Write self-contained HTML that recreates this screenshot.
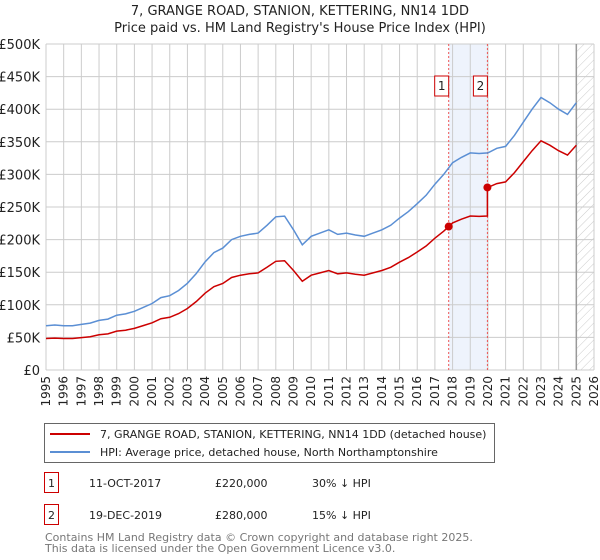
<!DOCTYPE html>
<html><head><meta charset="utf-8"><style>
body{margin:0;width:600px;height:560px;background:#fff;font-family:"DejaVu Sans","Liberation Sans",sans-serif;overflow:hidden}
svg{position:absolute;left:0;top:0}
</style></head><body>
<svg id="c" width="600" height="560"></svg>
<script>
const hpiYears=[1995,1995.5,1996,1996.5,1997,1997.5,1998,1998.5,1999,1999.5,2000,2000.5,2001,2001.5,2002,2002.5,2003,2003.5,2004,2004.5,2005,2005.5,2006,2006.5,2007,2007.5,2008,2008.5,2009,2009.5,2010,2010.5,2011,2011.5,2012,2012.5,2013,2013.5,2014,2014.5,2015,2015.5,2016,2016.5,2017,2017.5,2018,2018.5,2019,2019.5,2020,2020.5,2021,2021.5,2022,2022.5,2023,2023.5,2024,2024.5,2025];
const hpiValues=[68,69,68,68,70,72,76,78,84,86,90,96,102,111,114,122,133,148,166,180,187,200,205,208,210,222,235,236,215,192,205,210,215,208,210,207,205,210,215,222,233,243,255,268,285,300,318,326,333,332,333,340,343,360,380,400,418,410,400,392,410];
const saleDates=[2017.78,2019.97];
const salePrices=[220,280];
const saleLabels=["1","2"];
const yTicks=[0,50,100,150,200,250,300,350,400,450,500];
const yTickLabels=["£0","£50K","£100K","£150K","£200K","£250K","£300K","£350K","£400K","£450K","£500K"];
const xTicks=[];for(let y=1995;y<=2026;y++)xTicks.push(y);

const svg=document.getElementById('c');const NS='http://www.w3.org/2000/svg';
const X0=46,X1=594,Y0=370,Y1=44;
const xs=v=>X0+(v-1995)/(2026-1995)*(X1-X0);
const ys=v=>Y0-v/500*(Y0-Y1);
function mk(t,a,p){const e=document.createElementNS(NS,t);for(const k in a)e.setAttribute(k,a[k]);(p||svg).appendChild(e);return e;}
function hpiAt(t){for(let i=0;i<hpiYears.length-1;i++){if(t<=hpiYears[i+1]){const f=(t-hpiYears[i])/(hpiYears[i+1]-hpiYears[i]);return hpiValues[i]+f*(hpiValues[i+1]-hpiValues[i]);}}return hpiValues[hpiValues.length-1];}
const defs=mk('defs',{});
const pat=mk('pattern',{id:'hatch',width:6,height:6,patternUnits:'userSpaceOnUse',patternTransform:'rotate(45)'},defs);
mk('line',{x1:0,y1:0,x2:0,y2:6,stroke:'#ccc','stroke-width':1},pat);
let r=mk('rect',{x:xs(saleDates[0]),y:Y1,width:xs(saleDates[1])-xs(saleDates[0]),height:Y0-Y1,fill:'#eef3fc'});

r=mk('rect',{x:xs(2025.0),y:Y1,width:X1-xs(2025.0),height:Y0-Y1,fill:'url(#hatch)'});

yTicks.forEach((v,i)=>{mk('line',{x1:X0,x2:X1,y1:ys(v),y2:ys(v),stroke:'#ccc','stroke-width':1});
 const t=mk('text',{x:40,y:ys(v)+5,'text-anchor':'end','font-size':13,fill:'#222'});t.textContent=yTickLabels[i];
 });
xTicks.forEach(v=>{mk('line',{x1:xs(v),x2:xs(v),y1:Y1,y2:Y0,stroke:'#ccc','stroke-width':1});
 const t=mk('text',{x:0,y:0,'text-anchor':'end','font-size':12,fill:'#222',transform:`translate(${xs(v)+4},${Y0+6}) rotate(-90)`});t.textContent=v;
 });
mk('line',{x1:xs(2025),x2:xs(2025),y1:Y1,y2:Y0,stroke:'#999','stroke-width':1.5});
saleDates.forEach((d,i)=>{const l=mk('line',{x1:xs(d),x2:xs(d),y1:Y1,y2:Y0,stroke:'#e55','stroke-width':1,'stroke-dasharray':'2,2'});
 
 const g=mk('g',{});
 mk('rect',{x:xs(d)-14,y:76,width:14,height:20,fill:'#fff',stroke:'#c00','stroke-width':1},g);
 const t=mk('text',{x:xs(d)-7,y:90,'text-anchor':'middle','font-size':12,fill:'#222'},g);t.textContent=saleLabels[i];});
let pts=hpiYears.map((y,i)=>xs(y).toFixed(1)+','+ys(hpiValues[i]).toFixed(1)).join(' ');
let p=mk('polyline',{points:pts,fill:'none',stroke:'#5b8fd4','stroke-width':1.5});

const redPts=[];
hpiYears.forEach((y,i)=>{let k=0;if(y>=saleDates[1])k=1;const ratio=salePrices[k]/hpiAt(saleDates[k]);
 redPts.push([y,hpiValues[i]*ratio]);
 if(i<hpiYears.length-1){saleDates.forEach((d,j)=>{if(d>y&&d<hpiYears[i+1]){if(j===1){redPts.push([d,hpiAt(d)*salePrices[0]/hpiAt(saleDates[0])]);}redPts.push([d,salePrices[j]]);}});}});
const r0=salePrices[0]/hpiAt(saleDates[0]);
const fixed=redPts.map(([y,v])=>{if(y<saleDates[1]&&y!==saleDates[0])return [y,hpiAt(y)*r0];return [y,v];});
p=mk('polyline',{points:fixed.map(([y,v])=>xs(y).toFixed(1)+','+ys(v).toFixed(1)).join(' '),fill:'none',stroke:'#c00','stroke-width':1.5});

saleDates.forEach((d,i)=>{const c=mk('circle',{cx:xs(d),cy:ys(salePrices[i]),r:4,fill:'#c00'});
 });
let t=mk('text',{x:300,y:15,'text-anchor':'middle','font-size':13,fill:'#222'});t.textContent='7, GRANGE ROAD, STANION, KETTERING, NN14 1DD';

t=mk('text',{x:300,y:32,'text-anchor':'middle','font-size':13,fill:'#222'});t.textContent="Price paid vs. HM Land Registry's House Price Index (HPI)";

const lg=mk('g',{});
mk('rect',{x:44.5,y:423.5,width:450,height:39,fill:'#fff',stroke:'#666','stroke-width':1},lg);
mk('line',{x1:50,x2:90,y1:434,y2:434,stroke:'#c00','stroke-width':2},lg);
mk('line',{x1:50,x2:90,y1:452,y2:452,stroke:'#5b8fd4','stroke-width':2},lg);
t=mk('text',{x:100,y:438,'font-size':11,fill:'#222'},lg);t.textContent='7, GRANGE ROAD, STANION, KETTERING, NN14 1DD (detached house)';

t=mk('text',{x:100,y:456,'font-size':11,fill:'#222'},lg);t.textContent='HPI: Average price, detached house, North Northamptonshire';

const rows=[["1","11-OCT-2017","£220,000","30% ↓ HPI",486],["2","19-DEC-2019","£280,000","15% ↓ HPI",518]];
rows.forEach(rw=>{const g=mk('g',{});
 mk('rect',{x:44.5,y:rw[4]-13.5,width:14,height:20,fill:'#fff',stroke:'#c00','stroke-width':1},g);
 let a=mk('text',{x:51.5,y:rw[4]+1,'text-anchor':'middle','font-size':11,fill:'#222'},g);a.textContent=rw[0];
 a=mk('text',{x:89,y:rw[4]+1,'font-size':11,fill:'#222'},g);a.textContent=rw[1];
 a=mk('text',{x:215,y:rw[4]+1,'font-size':11,fill:'#222'},g);a.textContent=rw[2];
 a=mk('text',{x:312,y:rw[4]+1,'font-size':11,fill:'#222'},g);a.textContent=rw[3];});
t=mk('text',{x:45,y:541,'font-size':11,fill:'#777'});t.textContent='Contains HM Land Registry data © Crown copyright and database right 2025.';

t=mk('text',{x:45,y:552,'font-size':11,fill:'#777'});t.textContent='This data is licensed under the Open Government Licence v3.0.';

</script>
</body></html>
